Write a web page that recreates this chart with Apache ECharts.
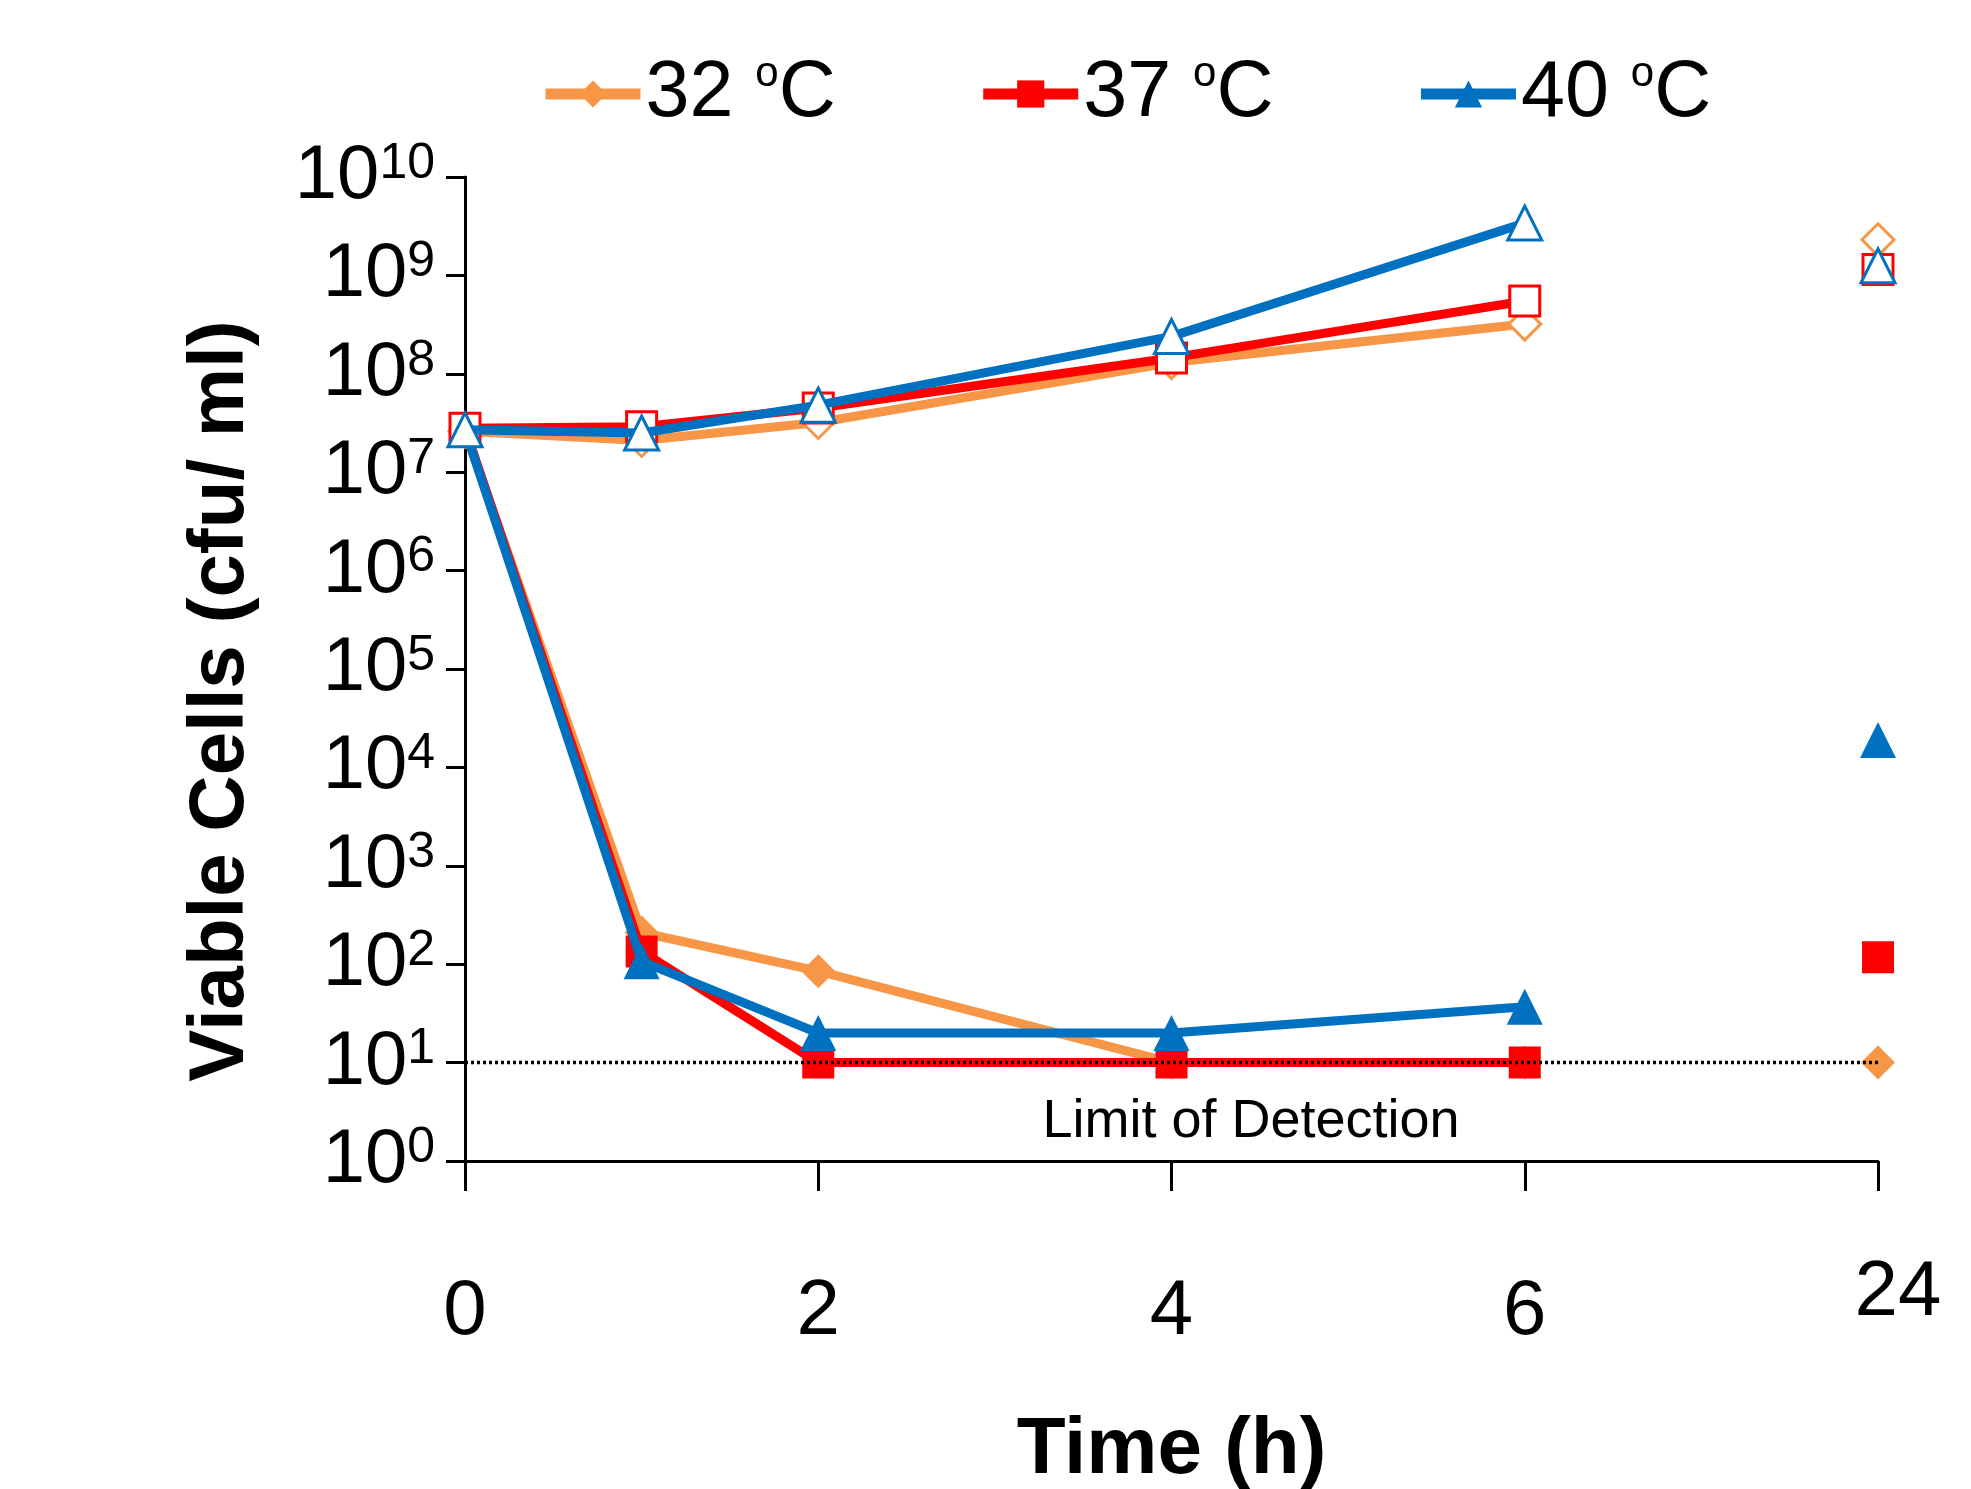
<!DOCTYPE html>
<html>
<head>
<meta charset="utf-8">
<script src="https://cdn.jsdelivr.net/npm/echarts@6/dist/echarts.min.js"></script>
<style>
  html, body { margin: 0; padding: 0; background: #fff; }
  #chart { width: 1971px; height: 1489px; }
</style>
</head>
<body>
<div id="chart"></div>
<script>
// time points (h), 24 h is drawn at position 8 on the broken axis
const hours = [0, 1, 2, 4, 6];
const pos24 = 8;
const tickLabels = { 0: '0', 2: '2', 4: '4', 6: '6', 8: '24' };

// upper curves (open markers)
const c32High = [2.6e7, 2.1e7, 3.2e7, 1.3e8, 3.2e8];
const c37High = [2.8e7, 2.9e7, 4.5e7, 1.45e8, 5.5e8];
const c40High = [2.7e7, 2.5e7, 4.8e7, 2.4e8, 3.4e9];
// lower curves (filled markers)
const c32Low = [2.6e7, 210, 85, 10, 10];
const c37Low = [2.8e7, 135, 10, 10, 10];
const c40Low = [2.7e7, 107, 20, 20, 37];
// 24 h values: 32, 37, 40 oC
const high24 = [2.3e9, 1.15e9, 1.25e9];
const low24 = [10, 118, 1.9e4];
const limitOfDetection = 10;

const names = ['32 oC', '37 oC', '40 oC'];
const colors = ['#F79646', '#FF0000', '#0070C0'];
const symbols = ['diamond', 'rect', 'triangle'];
const sizes = [34, 32, 36];

const FONT = '"Liberation Sans", Arial, sans-serif';

function pairs(vals) {
  return hours.map((h, i) => [h, vals[i]]);
}

const lows = [c32Low, c37Low, c40Low];
const highs = [c32High, c37High, c40High];

const series = [];
// lower lines first, filled markers
for (let i = 0; i < 3; i++) {
  series.push({
    name: names[i],
    type: 'line',
    data: pairs(lows[i]),
    symbol: symbols[i],
    symbolSize: sizes[i],
    lineStyle: { width: 9, color: colors[i] },
    itemStyle: { color: colors[i] },
    z: 2 + i
  });
}
// upper lines, open markers
for (let i = 0; i < 3; i++) {
  series.push({
    name: names[i] + ' b',
    type: 'line',
    data: pairs(highs[i]),
    symbol: symbols[i],
    symbolSize: sizes[i] - 2,
    lineStyle: { width: 9, color: colors[i] },
    itemStyle: { color: '#fff', borderColor: colors[i], borderWidth: 3 },
    z: 5 + i
  });
}
// 24 h points, no connecting line
for (let i = 0; i < 3; i++) {
  series.push({
    name: names[i] + ' 24',
    type: 'scatter',
    data: [[pos24, low24[i]]],
    symbol: symbols[i],
    symbolSize: sizes[i],
    itemStyle: { color: colors[i], opacity: 1 },
    z: 5
  });
  series.push({
    name: names[i] + ' 24b',
    type: 'scatter',
    data: [[pos24, high24[i]]],
    symbol: symbols[i],
    symbolSize: sizes[i] - 2,
    itemStyle: { color: '#fff', borderColor: colors[i], borderWidth: 3, opacity: 1 },
    z: 6
  });
}
// limit of detection
series.push({
  name: 'LOD',
  type: 'line',
  data: [[0, limitOfDetection], [pos24, limitOfDetection]],
  symbol: 'none',
  lineStyle: { width: 3.5, type: [3, 3], color: '#000' },
  z: 10
});

const chart = echarts.init(document.getElementById('chart'));
chart.setOption({
  animation: false,
  grid: { left: 465, right: 93, top: 177, bottom: 328, outerBoundsMode: 'none' },
  legend: {
    data: names,
    left: 535,
    top: 48,
    itemWidth: 95,
    itemHeight: 34,
    itemGap: 142,
    lineStyle: { width: 11 },
    formatter: n => '{t|' + n.split(' ')[0] + ' }{s|o}{t|C}',
    textStyle: {
      rich: {
        t: { fontSize: 79, fontFamily: FONT, color: '#000', lineHeight: 82 },
        s: { fontSize: 42, fontFamily: FONT, color: '#000', verticalAlign: 'top', lineHeight: 42 }
      }
    }
  },
  xAxis: {
    type: 'value',
    min: 0,
    max: 8,
    interval: 2,
    name: 'Time (h)',
    nameLocation: 'middle',
    nameGap: 250,
    nameTextStyle: { fontSize: 80, fontWeight: 'bold', fontFamily: FONT, color: '#000' },
    splitLine: { show: false },
    axisLine: { show: true, lineStyle: { color: '#000', width: 3 } },
    axisTick: { show: true, length: 30, lineStyle: { color: '#000', width: 3 } },
    axisLabel: {
      margin: 93,
      fontSize: 78,
      fontFamily: FONT,
      color: '#000',
      formatter: v => v === pos24 ? '{h|' + tickLabels[v] + '}' : '{n|' + (tickLabels[v] || '') + '}',
      rich: {
        n: { fontSize: 78, fontFamily: FONT, color: '#000', padding: [19, 0, 0, 0] },
        h: { fontSize: 78, fontFamily: FONT, color: '#000', padding: [0, 0, 0, 40] }
      }
    }
  },
  yAxis: {
    type: 'log',
    logBase: 10,
    min: 1,
    max: 1e10,
    interval: 1,
    name: 'Viable Cells (cfu/ ml)',
    nameLocation: 'middle',
    nameGap: 205,
    nameTextStyle: {
      fontSize: 78, fontWeight: 'bold', fontFamily: FONT, color: '#000',
      padding: [0, 64, 0, 0]
    },
    splitLine: { show: false },
    axisLine: { show: true, lineStyle: { color: '#000', width: 3 } },
    axisTick: { show: true, length: 19, lineStyle: { color: '#000', width: 3 } },
    axisLabel: {
      margin: 30,
      interval: 0,
      hideOverlap: false,
      formatter: v => '{b|10}{e|' + Math.round(Math.log10(v)) + '}',
      rich: {
        b: { fontSize: 76, fontFamily: FONT, color: '#000', lineHeight: 76 },
        e: { fontSize: 50, fontFamily: FONT, color: '#000', verticalAlign: 'top', lineHeight: 50 }
      }
    }
  },
  series: series
});

const p = chart.convertToPixel({ gridIndex: 0 }, [4.45, limitOfDetection]);
chart.setOption({
  graphic: [{
    type: 'text',
    x: p[0],
    y: p[1] + 60,
    style: {
      text: 'Limit of Detection',
      fontSize: 54,
      fontFamily: FONT,
      fill: '#000',
      align: 'center',
      verticalAlign: 'middle'
    }
  }]
});
</script>
</body>
</html>
